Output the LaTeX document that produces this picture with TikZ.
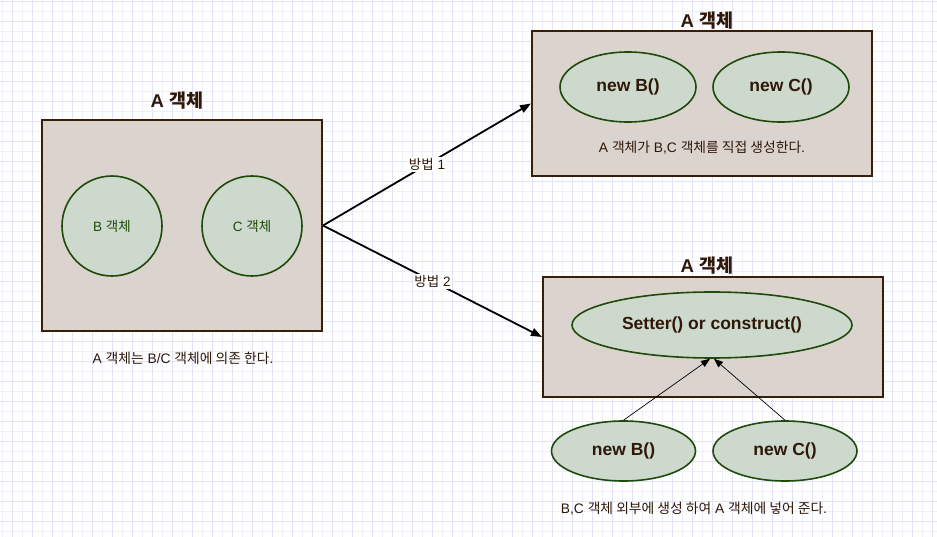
\documentclass[tikz,border=0pt]{standalone}
\usepackage{fontspec}
\setmainfont{Liberation Sans}
\newfontfamily\kr{Noto Sans CJK KR}
\usetikzlibrary{shapes.geometric,arrows.meta}
\definecolor{gridc}{HTML}{E3E3F7}
\definecolor{gridl}{HTML}{EFEFFA}
\definecolor{boxfill}{HTML}{DBD3CE}
\definecolor{boxline}{HTML}{3A1F08}
\definecolor{elfill}{HTML}{CED9CD}
\definecolor{elline}{HTML}{1E4A0A}
\definecolor{txt}{HTML}{2E1808}
\tikzset{
  abox/.style={draw=boxline, fill=boxfill, line width=2pt, inner sep=0pt},
  circ/.style={circle, draw=elline, fill=elfill, line width=1.6pt, inner sep=0pt, minimum size=100pt, text=elline, font=\fontsize{13.5}{15}\selectfont},
  ell/.style={ellipse, draw=elline, fill=elfill, line width=1.6pt, inner sep=0pt, text=txt, font=\bfseries\fontsize{17.5}{20}\selectfont},
  ttl/.style={text=txt, font=\bfseries\fontsize{18.5}{21}\selectfont, inner sep=0pt},
  note/.style={text=txt, font=\fontsize{13.8}{16}\selectfont, inner sep=0pt},
  bigarrow/.style={line width=1.8pt, -{Triangle[length=11pt,width=8pt]}},
  smallarrow/.style={line width=0.7pt, -{Triangle[length=9pt,width=7pt]}},
  lbl/.style={fill=white, text=txt, font=\fontsize{13.5}{15}\selectfont, inner sep=1.5pt}
}
\begin{document}
\begin{tikzpicture}[x=1pt,y=-1pt]
\useasboundingbox (0,0) rectangle (937,537);
\fill[white] (0,0) rectangle (937,537);
\foreach \x in {2,22,...,922} \draw[gridl, line width=0.8pt] (\x,0) -- (\x,537);
\foreach \y in {11,31,...,531} \draw[gridl, line width=0.8pt] (0,\y) -- (937,\y);
\foreach \x in {12,32,...,932} \draw[gridc, line width=0.8pt] (\x,0) -- (\x,537);
\foreach \y in {1,21,...,521} \draw[gridc, line width=0.8pt] (0,\y) -- (937,\y);

% left box
\node[abox, minimum width=280pt, minimum height=210pt] (A1) at (182,225.5) {};
\node[ttl] (A1t) at (177,101) {A {\kr 객체}};
\node[circ] (B1) at (112,226) {B {\kr 객체}};
\node[circ] (C1) at (252,226) {C {\kr 객체}};
\node[note] (A1n) at (183,358) {A {\kr 객체는} B/C {\kr 객체에 의존 한다}.};

% top right box
\node[abox, minimum width=340pt, minimum height=145pt] (T1) at (702,103.5) {};
\node[ttl] (T1t) at (707,21) {A {\kr 객체}};
\node[ell, minimum width=136pt, minimum height=70pt] (NB1) at (628,87) {new B()};
\node[ell, minimum width=136pt, minimum height=70pt] (NC1) at (781,87) {new C()};
\node[note] (T1n) at (702,148) {A {\kr 객체가} B,C {\kr 객체를 직접 생성한다}.};

% bottom right box
\node[abox, minimum width=340pt, minimum height=120pt] (T2) at (713,337) {};
\node[ttl] (T2t) at (707,266) {A {\kr 객체}};
\node[ell, minimum width=280pt, minimum height=66pt] (S) at (712,325) {Setter() or construct()};
\node[ell, minimum width=144pt, minimum height=60pt] (NB2) at (623.5,451) {new B()};
\node[ell, minimum width=144pt, minimum height=60pt] (NC2) at (785,451) {new C()};
\node[note] (T2n) at (694,509) {B,C {\kr 객체 외부에 생성 하여} A {\kr 객체에 넣어 준다}.};

% connectors
\draw[bigarrow] (A1.east) -- (T1.west) node[lbl, pos=0.5] {{\kr 방법} 1};
\draw[bigarrow] (A1.east) -- (T2.west) node[lbl, pos=0.5] {{\kr 방법} 2};
\draw[smallarrow] (NB2.north) -- ([xshift=-2pt]S.south);
\draw[smallarrow] (NC2.north) -- ([xshift=2pt]S.south);
\end{tikzpicture}
\end{document}
